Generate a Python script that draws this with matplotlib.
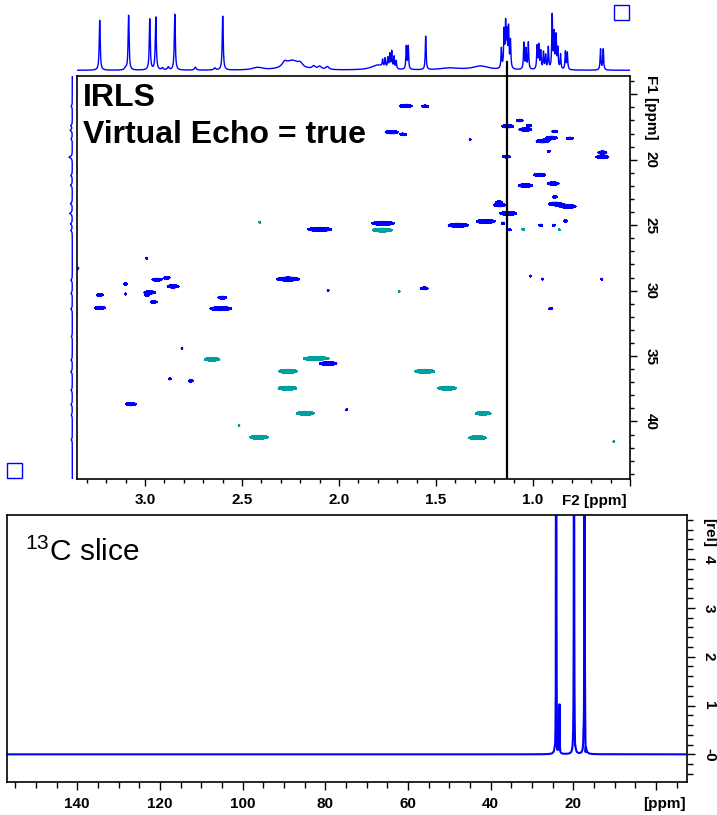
import numpy as np
import matplotlib.pyplot as plt
from matplotlib.patches import Rectangle
from matplotlib.ticker import MultipleLocator

plt.rcParams['font.family'] = ['Liberation Sans', 'DejaVu Sans']
plt.rcParams['mathtext.fontset'] = 'custom'
plt.rcParams['mathtext.rm'] = 'Liberation Sans'

W, H = 717, 815
BLUE = '#0000ff'
TEAL = '#00a0a0'

# 1H projection on top (F2 ppm, height, linewidth ppm)
h_ppm = [3.233, 3.084, 2.975, 2.944, 2.846, 2.599,
         3.10, 2.91, 2.88, 2.74, 2.64, 2.42, 2.28, 2.24, 2.20, 2.13, 2.10, 2.06,
         1.80, 1.775, 1.762, 1.748, 1.738, 1.728, 1.716, 1.705,
         1.653, 1.643, 1.553, 1.43, 1.27,
         1.163, 1.149, 1.141, 1.134, 1.126, 1.116, 1.047, 1.036, 1.024,
         0.979, 0.970, 0.960, 0.946, 0.935, 0.921, 0.901, 0.891, 0.881,
         0.872, 0.858, 0.833, 0.823, 0.652, 0.638]
h_int = [50, 55, 51, 53, 56, 54,
         2, 2, 3, 3, 2, 2.5, 5, 9, 4, 3, 3, 3,
         5, 7, 9, 10, 14, 17, 12, 8,
         23, 23, 34, 2, 4,
         20, 37, 43, 33, 40, 28, 27, 20, 27,
         23, 24, 18, 17, 14, 22, 54, 35, 33,
         20, 15, 18, 17, 21, 21]
h_lw = [0.006] * 6 + [0.01, 0.01, 0.01, 0.01, 0.01, 0.06, 0.03, 0.08, 0.03, 0.02, 0.02, 0.02,
        0.08] + [0.005] * 7 + [0.005, 0.005, 0.005, 0.12, 0.10] + [0.005] * 24

# 2D cross peaks: F2 ppm, F1 ppm, F2 width ppm, sign (+1 blue, -1 teal)
pk_f2 = [1.656, 1.556, 1.729, 1.668, 1.324, 1.131, 1.068, 1.039, 1.020, 0.888,
         0.903, 0.951, 0.810, 0.919, 1.137, 0.642, 0.642, 0.965, 1.039, 0.896,
         0.888, 1.175, 1.171, 0.888, 0.819, 1.128, 0.832, 1.773, 1.386, 1.243,
         1.154, 1.120, 0.960, 0.893, 2.099, 2.991, 3.345, 2.262, 2.938, 2.886,
         3.099, 2.855, 2.975, 2.989, 3.099, 3.233, 2.955, 3.233, 2.601, 2.609,
         2.056, 2.809, 2.056, 2.872, 2.764, 3.073, 1.961, 1.561, 1.013, 0.951,
         0.645, 0.908,
         2.408, 1.776, 1.051, 0.865, 1.690, 2.654, 2.116, 2.262, 2.265, 2.173,
         2.515, 2.413, 1.558, 1.443, 1.257, 1.286, 0.583]
pk_f1 = [15.89, 15.92, 17.89, 18.07, 18.47, 17.44, 17.00, 17.69, 17.38, 17.84,
         18.32, 18.58, 18.37, 19.36, 19.76, 19.44, 19.79, 21.16, 21.97, 21.82,
         22.84, 23.24, 23.47, 23.37, 23.57, 24.10, 24.68, 24.86, 25.01, 24.71,
         24.86, 25.35, 25.01, 25.01, 25.32, 27.52, 28.28, 29.12, 29.17, 29.02,
         29.50, 29.68, 30.14, 30.37, 30.26, 30.33, 30.87, 31.32, 30.54, 31.38,
         29.98, 34.40, 35.56, 36.75, 36.90, 38.68, 39.11, 29.83, 28.89, 29.12,
         29.12, 31.38,
         24.78, 25.37, 25.32, 25.35, 30.06, 35.25, 35.20, 36.17, 37.46, 39.38,
         40.33, 41.21, 36.17, 37.46, 39.38, 41.24, 41.54]
pk_w = [0.067, 0.036, 0.067, 0.031, 0.010, 0.062, 0.036, 0.067, 0.026, 0.031,
        0.057, 0.067, 0.036, 0.015, 0.041, 0.046, 0.067, 0.062, 0.072, 0.062,
        0.026, 0.031, 0.062, 0.067, 0.082, 0.088, 0.021, 0.119, 0.103, 0.098,
        0.015, 0.015, 0.021, 0.015, 0.124, 0.010, 0.010, 0.119, 0.052, 0.031,
        0.021, 0.062, 0.062, 0.021, 0.010, 0.036, 0.036, 0.057, 0.046, 0.113,
        0.010, 0.010, 0.093, 0.015, 0.026, 0.057, 0.010, 0.041, 0.010, 0.010,
        0.010, 0.021,
        0.010, 0.103, 0.015, 0.010, 0.010, 0.082, 0.139, 0.098, 0.098, 0.093,
        0.010, 0.098, 0.103, 0.098, 0.082, 0.093, 0.010]
pk_sign = [1] * 62 + [-1] * 17

# 13C projection on the left (F1 ppm, height)
c_ppm = [15.9, 17.4, 17.75, 18.4, 19.8, 21.2, 21.95, 23.35, 24.1, 24.9, 25.4,
         29.2, 30.2, 31.4, 33.5, 35.3, 36.2, 37.6, 38.7, 39.5, 41.4]
c_int = [1.2, 1.5, 2.0, 1.2, 3.3, 1.5, 1.8, 1.8, 2.5, 1.8, 1.5,
         1.5, 1.3, 1.5, 0.8, 1.3, 1.5, 1.3, 1.3, 1.0, 1.0]

# 13C slice at F2 = 1.134 ppm
slice_f2 = 1.134
s_ppm = [24.15, 23.35, 19.85, 17.3, 23.9, 24.4, 19.6, 17.05, 17.55]
s_int = [14, 1.0, 14, 14, -0.25, -0.15, -0.15, -0.3, 0.2]


def lorentz(x, pos, amp, fwhm):
    out = np.zeros_like(x)
    for p, a, w in zip(pos, amp, fwhm):
        g = w / 2
        out += a * g * g / ((x - p) ** 2 + g * g)
    return out


def px_axes(l, t, r, b):
    return fig.add_axes([l / W, 1 - b / H, (r - l) / W, (b - t) / H])


fig = plt.figure(figsize=(W / 100, H / 100), dpi=100)
tick_font = dict(fontsize=11, fontweight='bold')

# ---- 2D panel
ax = px_axes(77, 76, 630, 479)
X = np.linspace(0.5, 3.35, 1400)
Y = np.linspace(13.6, 44.4, 1200)
Z = np.zeros((len(Y), len(X)))
for f2, f1, w, s in zip(pk_f2, pk_f1, pk_w, pk_sign):
    h = 0.14 + 0.01 * min(w * 194, 18)
    gx = np.exp(-np.log(2) * ((X - f2) / (w / 2)) ** 2)
    gy = np.exp(-np.log(2) * ((Y - f1) / (h / 2)) ** 2)
    Z += s * np.outer(gy, gx)
ax.contourf(X, Y, Z, levels=[0.5, 1e3], colors=BLUE)
ax.contour(X, Y, Z, levels=[0.5], colors=BLUE, linewidths=0.5)
ax.contourf(X, Y, Z, levels=[-1e3, -0.5], colors=TEAL)
ax.contour(X, Y, Z, levels=[-0.5], colors=TEAL, linewidths=0.5)
ax.axvline(slice_f2, color='k', lw=1.6)
ax.set_xlim(3.35, 0.5)
ax.set_ylim(44.4, 13.6)
ax.yaxis.tick_right()
ax.set_xticks([3.0, 2.5, 2.0, 1.5, 1.0, 0.5], ['3.0', '2.5', '2.0', '1.5', '1.0', ''], **tick_font)
ax.set_yticks([15, 20, 25, 30, 35, 40], ['', '20', '25', '30', '35', '40'],
              rotation=-90, va='center', **tick_font)
ax.xaxis.set_minor_locator(MultipleLocator(0.1))
ax.yaxis.set_minor_locator(MultipleLocator(1))
ax.tick_params(which='major', direction='out', length=5, width=1, pad=5)
ax.tick_params(which='minor', direction='out', length=3, width=1)
for sp in ax.spines.values():
    sp.set_linewidth(1.2)
ax.text(0.011, 0.9256, 'IRLS', transform=ax.transAxes, fontsize=23, fontweight='bold', va='baseline')
ax.text(0.011, 0.833, 'Virtual Echo = true', transform=ax.transAxes, fontsize=23,
        fontweight='bold', va='baseline')
fig.text(627 / W, 1 - 501 / H, 'F2 [ppm]', ha='right', va='center', **tick_font)
fig.text(651 / W, 1 - 107 / H, 'F1 [ppm]', ha='center', va='center', rotation=-90, **tick_font)

# ---- top projection
axt = px_axes(77, 0, 630, 76)
f2 = np.linspace(3.35, 0.5, 4000)
axt.plot(f2, lorentz(f2, h_ppm, h_int, h_lw), color=BLUE, lw=1)
axt.plot([slice_f2, slice_f2], [-5.7, 8], color='k', lw=1.6)
axt.set_xlim(3.35, 0.5)
axt.set_ylim(-5.7, 70.3)
axt.axis('off')

# ---- left projection
axl = px_axes(55, 76, 77, 479)
f1 = np.linspace(13.6, 44.4, 3000)
axl.plot(lorentz(f1, c_ppm, c_int, [0.15] * len(c_ppm)), f1, color=BLUE, lw=1)
axl.set_xlim(17.3, -4.7)
axl.set_ylim(44.4, 13.6)
axl.axis('off')

# marker boxes
for l, t in [(614.4, 5.3), (7.3, 463)]:
    fig.patches.append(Rectangle((l / W, 1 - (t + 15) / H), 15 / W, 15 / H, fill=False,
                                 edgecolor=BLUE, lw=1, transform=fig.transFigure))

# ---- 13C slice
axs = px_axes(7.3, 515, 686.7, 781.7)
cx = np.linspace(-7.4, 156.9, 9000)
axs.plot(cx, lorentz(cx, s_ppm, s_int, [0.08] * len(s_ppm)), color=BLUE, lw=1.5)
axs.set_xlim(156.9, -7.4)
axs.set_ylim(-0.56, 4.9)
axs.yaxis.tick_right()
axs.set_xticks([140, 120, 100, 80, 60, 40, 20, 0], ['140', '120', '100', '80', '60', '40', '20', ''],
               **tick_font)
axs.set_yticks([0, 1, 2, 3, 4], ['-0', '1', '2', '3', '4'], rotation=-90, va='center', **tick_font)
axs.xaxis.set_minor_locator(MultipleLocator(5))
axs.yaxis.set_minor_locator(MultipleLocator(0.2))
axs.tick_params(which='major', direction='out', length=6, width=1, pad=5)
axs.tick_params(which='minor', direction='out', length=4, width=1)
for sp in axs.spines.values():
    sp.set_linewidth(1.2)
axs.text(0.026, 0.8275, '$^{13}$C slice', transform=axs.transAxes, fontsize=21.5, va='baseline')
fig.text(686 / W, 1 - 804 / H, '[ppm]', ha='right', va='center', **tick_font)
fig.text(709 / W, 1 - 532 / H, '[rel]', ha='center', va='center', rotation=-90, **tick_font)

fig.savefig('out.png', dpi=100)
